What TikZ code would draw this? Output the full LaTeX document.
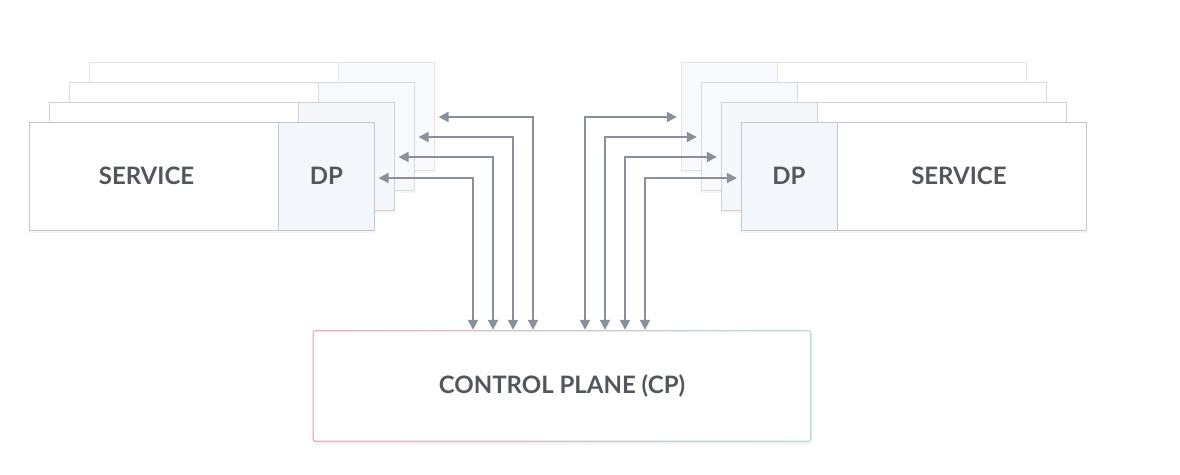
\documentclass[tikz,border=0pt]{standalone}
\usepackage{fontspec}
\setmainfont{Lato}
\usetikzlibrary{arrows.meta,shadows,positioning}

\definecolor{txtgray}{HTML}{53575C}
\definecolor{lnkgray}{HTML}{8A9099}
\definecolor{edgeA}{HTML}{C3C7CC}
\definecolor{edgeB}{HTML}{CED1D6}
\definecolor{edgeC}{HTML}{D8DBDF}
\definecolor{edgeD}{HTML}{E1E3E6}
\definecolor{dpA}{HTML}{F3F6FB}
\definecolor{dpB}{HTML}{F5F7FB}
\definecolor{dpC}{HTML}{F7F9FC}
\definecolor{dpD}{HTML}{F9FAFD}
\definecolor{cpred}{HTML}{E8AEB6}
\definecolor{cpblue}{HTML}{AEB9CC}
\definecolor{cpteal}{HTML}{B4DCD6}

\tikzset{
 card/.style={drop shadow={shadow xshift=0pt,shadow yshift=-3pt,opacity=0.07},
  minimum height=108pt, inner sep=0pt, text=txtgray,
  font=\fontsize{24}{28}\selectfont\bfseries},
 svc/.style={card, draw=#1, fill=white, minimum width=249pt},
 dp/.style 2 args={card, draw=#1, fill=#2, minimum width=96pt},
 link/.style={lnkgray, line width=2pt, shorten <=4pt,
  {Triangle[length=10pt,width=10pt]}-{Triangle[length=10pt,width=10pt]}},
 cpbox/.style={rounded corners=3pt, left color=cpred, middle color=cpblue,
  right color=cpteal, minimum width=499pt, minimum height=112pt,
  drop shadow={shadow xshift=0pt,shadow yshift=-3pt,opacity=0.07},
  text=txtgray, font=\fontsize{24}{28}\selectfont\bfseries,
  path picture={\fill[white,rounded corners=2pt]
   ([shift={(1.3pt,1.3pt)}]path picture bounding box.south west) rectangle
   ([shift={(-1.3pt,-1.3pt)}]path picture bounding box.north east);}},
}

\begin{document}
\begin{tikzpicture}[x=1pt,y=-1pt]
\useasboundingbox (0,0) rectangle (1180,474);

%left stack, back to front
\node[svc=edgeD] (svcL3) at (213.5,116) {};
\node[dp={edgeD}{dpD}, right=0pt of svcL3] (dpL3) {};
\node[svc=edgeC] (svcL2) at (193.5,136) {};
\node[dp={edgeC}{dpC}, right=0pt of svcL2] (dpL2) {};
\node[svc=edgeB] (svcL1) at (173.5,156) {};
\node[dp={edgeB}{dpB}, right=0pt of svcL1] (dpL1) {};
\node[svc=edgeA] (svcL0) at (153.5,176) {SERVICE\kern14pt};
\node[dp={edgeA}{dpA}, right=0pt of svcL0] (dpL0) {DP};

%right stack, back to front
\node[dp={edgeD}{dpD}] (dpR3) at (729,116) {};
\node[svc=edgeD, right=0pt of dpR3] (svcR3) {};
\node[dp={edgeC}{dpC}] (dpR2) at (749,136) {};
\node[svc=edgeC, right=0pt of dpR2] (svcR2) {};
\node[dp={edgeB}{dpB}] (dpR1) at (769,156) {};
\node[svc=edgeB, right=0pt of dpR1] (svcR1) {};
\node[dp={edgeA}{dpA}] (dpR0) at (789,176) {DP};
\node[svc=edgeA, right=0pt of dpR0] (svcR0) {SERVICE\kern6pt};

%control plane
\node[cpbox] (cp) at (562,386) {CONTROL PLANE (CP)};

%where the links come down
\coordinate (vL0) at (473,0);
\coordinate (vL1) at (493,0);
\coordinate (vL2) at (513,0);
\coordinate (vL3) at (533,0);
\coordinate (vR3) at (585,0);
\coordinate (vR2) at (605,0);
\coordinate (vR1) at (625,0);
\coordinate (vR0) at (645,0);

\draw[link] ([yshift=-2pt]dpL0.east) -| (cp.north -| vL0);
\draw[link] ([yshift=-1pt]dpL1.east) -| (cp.north -| vL1);
\draw[link] ([yshift=-1pt]dpL2.east) -| (cp.north -| vL2);
\draw[link] ([yshift=-1pt]dpL3.east) -| (cp.north -| vL3);
\draw[link] ([yshift=-2pt]dpR0.west) -| (cp.north -| vR0);
\draw[link] ([yshift=-1pt]dpR1.west) -| (cp.north -| vR1);
\draw[link] ([yshift=-1pt]dpR2.west) -| (cp.north -| vR2);
\draw[link] ([yshift=-1pt]dpR3.west) -| (cp.north -| vR3);
\end{tikzpicture}
\end{document}
